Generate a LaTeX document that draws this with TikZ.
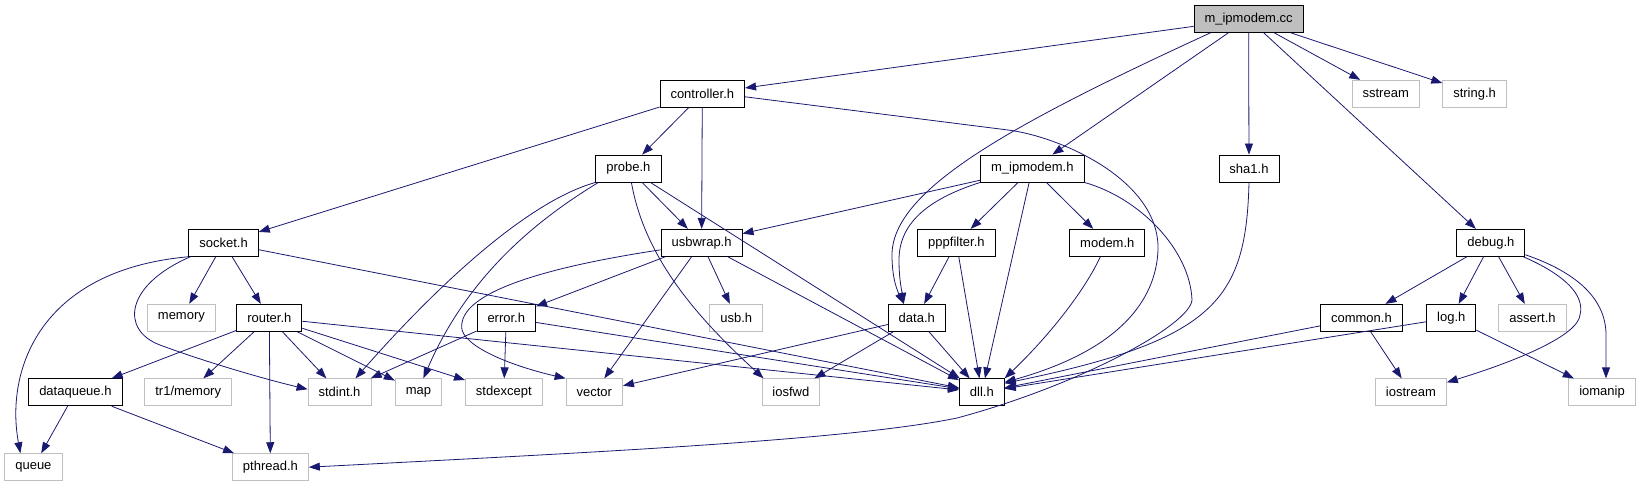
\documentclass[tikz,border=0pt]{standalone}
\usepackage{fontspec}
\setmainfont{Liberation Sans}
\usetikzlibrary{arrows.meta}
\definecolor{lien}{RGB}{25,25,112}
\definecolor{gris}{RGB}{191,191,191}

\begin{document}
\begin{tikzpicture}[x=1pt,y=-1pt,
  fich/.style={draw=black,line width=0.9pt,minimum height=27pt,inner xsep=10.5pt,inner ysep=0pt,font=\fontsize{13}{15}\selectfont},
  sys/.style={fich,draw=gris},
  inc/.style={draw=lien,line width=0.8pt,-{Triangle[length=11pt,width=8pt]}}]

\useasboundingbox (0,0) rectangle (1641,485);

% Fichier principal
\node[fich,fill=gris] (cc) at (1248.6,18.8) {m\_ipmodem.cc};

% En-tetes du projet
\foreach \nom/\lab/\x/\y in {
controller/controller.h/702.3/93.8,
probe/probe.h/628.4/168.5,
mipmodemh/m\_ipmodem.h/1032.3/168.5,
sha1/sha1.h/1249/168.5,
socket/socket.h/223.6/242.8,
usbwrap/usbwrap.h/701.6/242.8,
pppfilter/pppfilter.h/956.4/242.8,
modem/modem.h/1107.3/242.8,
debug/debug.h/1490.9/242.8,
router/router.h/269.3/317.8,
error/error.h/506.3/317.8,
data/data.h/916.8/317.8,
common/common.h/1361.4/317.8,
logh/log.h/1451.3/317.8,
dataqueue/dataqueue.h/75.4/392.3,
dll/dll.h/981.8/392.3}
{
\node[fich] (\nom) at (\x,\y) {\lab};
}

% En-tetes systeme
\foreach \nom/\lab/\x/\y in {
sstream/sstream/1385.7/93.8,
stringh/string.h/1474.6/93.8,
memory/memory/181.4/317.8,
usb/usb.h/736.3/317.8,
assert/assert.h/1532.5/317.8,
tr1mem/{tr1/memory}/188.2/392.3,
stdint/stdint.h/339.5/392.3,
map/map/418.4/392.3,
stdexcept/stdexcept/503.8/392.3,
vector/vector/594.3/392.3,
iosfwd/iosfwd/790.9/392.3,
iostream/iostream/1410.9/392.3,
iomanip/iomanip/1602/392.3,
queue/queue/33.4/467.2,
pthread/pthread.h/270.4/467.2}
{
\node[sys] (\nom) at (\x,\y) {\lab};
}

% Inclusions directes
\foreach \a/\b in {
cc/controller, cc/mipmodemh, cc/sha1, cc/debug, cc/sstream, cc/stringh,
controller/socket, controller/probe, controller/usbwrap,
probe/usbwrap, probe/dll,
mipmodemh/usbwrap, mipmodemh/pppfilter, mipmodemh/modem, mipmodemh/dll,
socket/memory, socket/router, socket/dll,
router/dataqueue, router/tr1mem, router/pthread, router/stdint,
router/map, router/stdexcept, router/dll,
error/stdint, error/stdexcept, error/dll,
usbwrap/error, usbwrap/vector, usbwrap/usb, usbwrap/dll,
pppfilter/data, pppfilter/dll,
data/dll, data/vector, data/iosfwd,
debug/common, debug/logh, debug/assert,
common/iostream, common/dll, logh/iomanip, logh/dll,
dataqueue/queue, dataqueue/pthread}
{
\draw[inc] (\a) -- (\b);
}

% Inclusions en courbe
\draw[inc] ([xshift=17pt]cc.south west) .. controls (1010,125) and (892,190) .. (892,255)
  .. controls (892,280) and (898,292) .. ([xshift=16pt]data.north west);
\draw[inc] (mipmodemh.south west) .. controls (925,200) and (899,225) .. (899,260)
  .. controls (899,280) and (902,292) .. ([xshift=16pt]data.north west);
\draw[inc] ([yshift=-3pt]controller.east) -- (1008,130)
  .. controls (1060,136.5) and (1160,180) .. (1158,250)
  .. controls (1156,300) and (1120,350) .. ([yshift=10pt]dll.east);
\draw[inc] (mipmodemh.south east) .. controls (1140,198) and (1190,250) .. (1192,300)
  .. controls (1190,325) and (1080,385) .. (957,418)
  .. controls (850,440) and (600,452) .. (pthread.east);
\draw[inc] (sha1.south) .. controls (1246,300) and (1215,340) .. ([yshift=9pt]dll.east);
\draw[inc] ([xshift=-7pt]modem.south) .. controls (1085,290) and (1050,335) .. (dll.north east);
\draw[inc] ([xshift=2pt]socket.south west) .. controls (125,285) and (120,330) .. (160,345)
  .. controls (200,360) and (260,378) .. ([yshift=3pt]stdint.west);
\draw[inc] (socket.south west) .. controls (40,270) and (5,370) .. ([xshift=-13pt]queue.north);
\draw[inc] (probe.south west) .. controls (540,198) and (460,260) .. ([xshift=16pt]stdint.north);
\draw[inc] ([xshift=3pt]probe.south west) .. controls (545,215) and (470,270) .. ([xshift=5pt]map.north);
\draw[inc] ([xshift=3pt]probe.south) .. controls (645,260) and (700,320) .. ([xshift=2pt]iosfwd.north west);
\draw[inc] ([yshift=-7pt]usbwrap.west) .. controls (560,265) and (455,290) .. (462,330)
  .. controls (468,350) and (520,368) .. (vector.north west);
\draw[inc] ([xshift=-2pt]debug.south east) .. controls (1565,275) and (1585,295) .. (1580,315)
  .. controls (1578,335) and (1520,360) .. ([yshift=-4pt]iostream.north east);
\draw[inc] ([yshift=2pt]debug.south east) .. controls (1570,270) and (1606,295) .. (1606,335)
  -- ([xshift=4pt]iomanip.north);

\end{tikzpicture}
\end{document}
